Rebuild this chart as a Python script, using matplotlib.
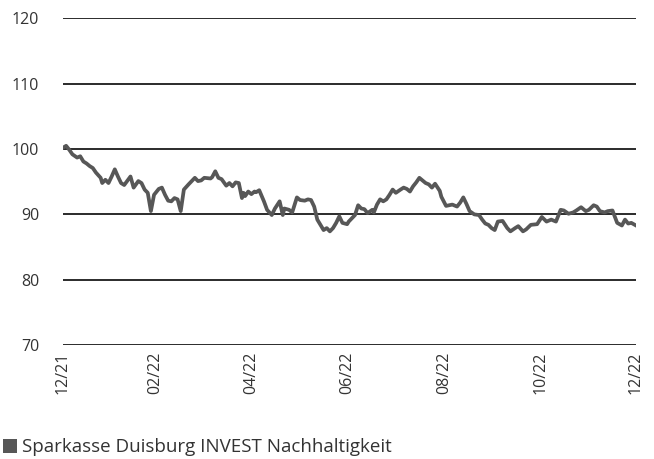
# -*- coding: utf-8 -*-
"""
Wertentwicklung Sparkasse Duisburg INVEST Nachhaltigkeit (indexiert, 12/21 = 100)
- Werte aus dem Referenzbild abgelesen
- Speichert out.png
"""

import pandas as pd
import matplotlib.pyplot as plt
from matplotlib.patches import Patch

plt.rcParams["font.family"] = ["Open Sans", "DejaVu Sans"]

start_date = "2021-12-31"

# Tage seit Startdatum
day_offset = [
    0, 2, 4, 6, 9, 11, 13, 15, 17, 19, 21, 24, 25, 27, 29, 31, 33, 35, 37, 39,
    43, 45, 48, 50, 52, 54, 56, 58, 59, 61, 63, 65, 67, 69, 71, 73, 75, 77, 80, 82,
    84, 86, 88, 90, 94, 95, 97, 99, 101, 104, 106, 108, 110, 112, 114, 115, 116, 118, 120, 122,
    123, 125, 128, 130, 133, 135, 138, 140, 141, 144, 146, 149, 151, 154, 156, 158, 160, 162, 164, 166,
    168, 170, 172, 174, 176, 178, 181, 182, 184, 186, 188, 190, 192, 194, 197, 198, 200, 202, 204, 206,
    208, 210, 212, 215, 217, 219, 221, 223, 225, 227, 229, 231, 233, 235, 237, 240, 241, 244, 248, 251,
    253, 255, 257, 259, 262, 265, 267, 269, 271, 273, 275, 277, 280, 283, 285, 288, 290, 293, 295, 298,
    302, 305, 308, 311, 314, 317, 319, 322, 325, 327, 330, 333, 335, 338, 340, 342, 345, 347, 350, 353,
    356, 358, 360, 362, 365,
]

# Indexwert
fund_value = [
    100.2, 100.5, 99.9, 99.2, 98.7, 98.9, 98.1, 97.8, 97.4, 97.1, 96.4, 95.6, 94.8, 95.3, 94.8, 95.8, 96.9, 95.8, 94.8, 94.5,
    95.8, 94.1, 95.1, 94.8, 93.8, 93.3, 90.5, 93.0, 93.3, 93.9, 94.1, 93.0, 92.1, 92.0, 92.5, 92.3, 90.5, 93.8, 94.6, 95.1,
    95.6, 95.1, 95.2, 95.6, 95.5, 95.7, 96.6, 95.6, 95.4, 94.4, 94.8, 94.3, 94.9, 94.8, 92.5, 93.3, 92.8, 93.5, 93.1, 93.5,
    93.4, 93.7, 92.0, 90.7, 89.9, 90.9, 92.0, 89.9, 90.9, 90.7, 90.3, 92.6, 92.2, 92.1, 92.3, 92.2, 91.2, 89.2, 88.4, 87.6,
    87.9, 87.4, 87.9, 88.7, 89.7, 88.7, 88.5, 88.9, 89.4, 89.9, 91.4, 90.9, 90.8, 90.2, 90.7, 90.3, 91.5, 92.3, 92.0, 92.3,
    93.0, 93.8, 93.3, 93.8, 94.1, 93.9, 93.5, 94.3, 94.9, 95.6, 95.2, 94.8, 94.6, 94.1, 94.7, 93.6, 92.7, 91.3, 91.5, 91.2,
    91.8, 92.6, 91.6, 90.5, 90.0, 89.9, 89.2, 88.6, 88.4, 87.9, 87.6, 88.9, 89.0, 87.9, 87.4, 87.9, 88.2, 87.4, 87.7, 88.4,
    88.5, 89.6, 88.9, 89.2, 88.9, 90.7, 90.6, 90.1, 90.3, 90.6, 91.1, 90.5, 90.7, 91.4, 91.2, 90.5, 90.3, 90.5, 90.6, 88.7,
    88.3, 89.2, 88.6, 88.7, 88.3,
]

tick_dates = ["2021-12-31", "2022-02-28", "2022-04-30", "2022-06-30",
              "2022-08-31", "2022-10-31", "2022-12-31"]
tick_labels = ["12/21", "02/22", "04/22", "06/22", "08/22", "10/22", "12/22"]
y_ticks = [70, 80, 90, 100, 110, 120]

series_label = "Sparkasse Duisburg INVEST Nachhaltigkeit"
line_color = "#575757"
text_color = "#333333"

dates = pd.Timestamp(start_date) + pd.to_timedelta(day_offset, unit="D")

fig = plt.figure(figsize=(6.54, 4.59), dpi=100)
ax = fig.add_axes([0.0963, 0.2484, 0.8762, 0.7113])

# Gitternetz
for y in y_ticks:
    ax.axhline(y, color="#1a1a1a", lw=1.3, zorder=1)

ax.plot(dates, fund_value, color=line_color, lw=2.7, solid_joinstyle="round", zorder=3)

ax.set_xlim(pd.Timestamp(tick_dates[0]), pd.Timestamp(tick_dates[-1]))
ax.set_ylim(70, 120)
ax.set_yticks(y_ticks)
ax.set_yticklabels([str(v) for v in y_ticks])
ax.set_xticks(pd.to_datetime(tick_dates))
ax.set_xticklabels(tick_labels, rotation=90)

for s in ax.spines.values():
    s.set_visible(False)
ax.tick_params(axis="y", length=0, pad=17, labelsize=11.5, labelcolor=text_color)
ax.tick_params(axis="x", length=0, pad=5, labelsize=11.5, labelcolor=text_color)

fig.legend(handles=[Patch(facecolor=line_color, edgecolor="none")], labels=[series_label],
           loc="lower left", bbox_to_anchor=(0.0, 0.0), frameon=False,
           handlelength=0.75, handleheight=0.75, handletextpad=0.25,
           borderaxespad=0.0, borderpad=0.15, fontsize=13.5, labelcolor=text_color)

fig.savefig("out.png", dpi=100)
